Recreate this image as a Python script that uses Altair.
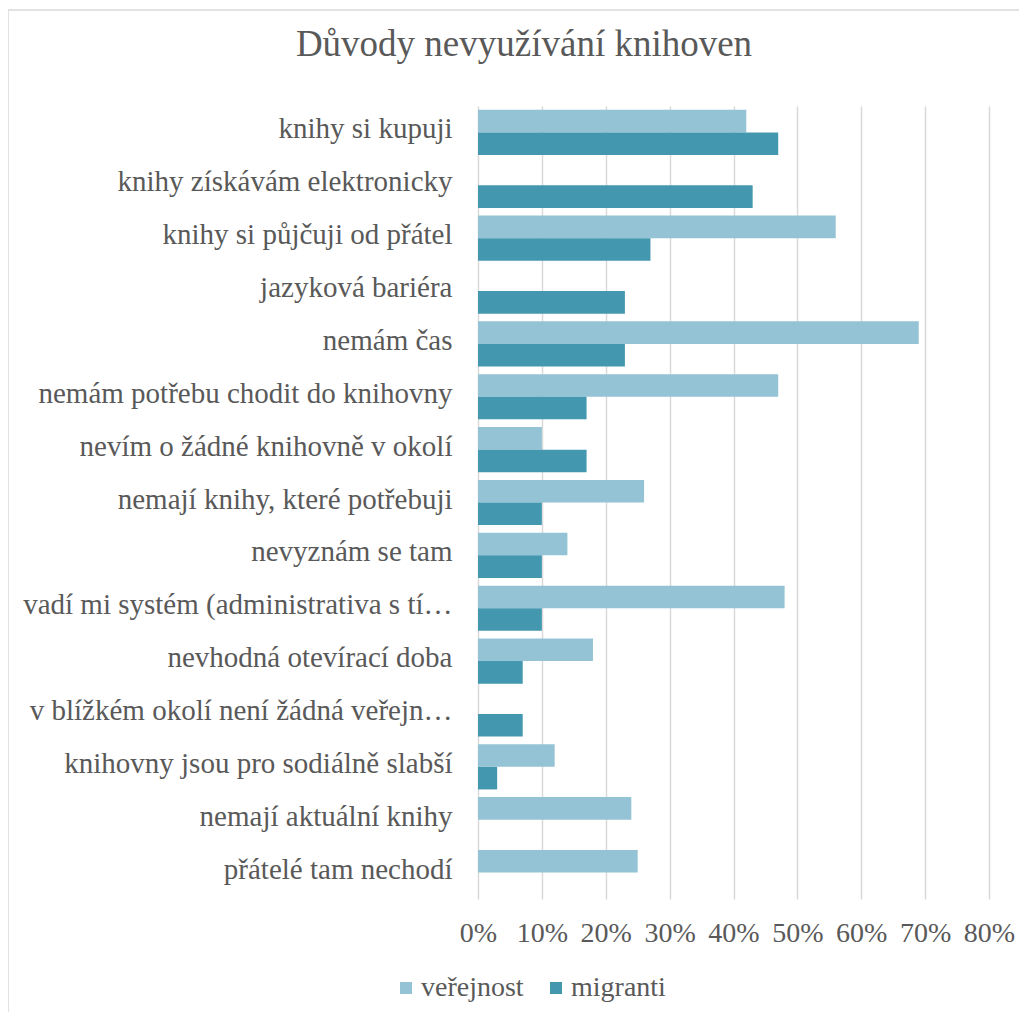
import altair as alt
import pandas as pd

title_text = "Důvody nevyužívání knihoven"
categories = [
    "knihy si kupuji",
    "knihy získávám elektronicky",
    "knihy si půjčuji od přátel",
    "jazyková bariéra",
    "nemám čas",
    "nemám potřebu chodit do knihovny",
    "nevím o žádné knihovně v okolí",
    "nemají knihy, které potřebuji",
    "nevyznám se tam",
    "vadí mi systém (administrativa s tím…",
    "nevhodná otevírací doba",
    "v blížkém okolí není žádná veřejná…",
    "knihovny jsou pro sodiálně slabší",
    "nemají aktuální knihy",
    "přátelé tam nechodí",
]
verejnost = [42, None, 56, None, 69, 47, 10, 26, 14, 48, 18, None, 12, 24, 25]
migranti = [47, 43, 27, 23, 23, 17, 17, 10, 10, 10, 7, 7, 3, None, None]
series = ["veřejnost", "migranti"]
colors = ["#93C3D4", "#4398B0"]
x_ticks = [0, 0.1, 0.2, 0.3, 0.4, 0.5, 0.6, 0.7, 0.8]

rows = []
for cat, v, m in zip(categories, verejnost, migranti):
    if v is not None:
        rows.append({"cat": cat, "series": series[0], "value": v / 100})
    if m is not None:
        rows.append({"cat": cat, "series": series[1], "value": m / 100})
df = pd.DataFrame(rows)

FONT = "Liberation Serif"
GRAY = "#595959"

border = alt.Chart(pd.DataFrame({"k": [0]})).mark_rect(
    fillOpacity=0, stroke="#D9D9D9", strokeWidth=1.5
).encode(
    x=alt.value(-470), x2=alt.value(700), y=alt.value(-96), y2=alt.value(1000)
)

title = alt.Chart(pd.DataFrame({"t": [title_text]})).mark_text(
    font=FONT, fontSize=37, color=GRAY, align="center", baseline="alphabetic"
).encode(text="t:N", x=alt.value(46), y=alt.value(-50))

bars = alt.Chart(df).mark_bar().encode(
    x=alt.X(
        "value:Q",
        scale=alt.Scale(domain=[0, 0.8], nice=False),
        axis=alt.Axis(
            values=x_ticks, format=".0%", grid=True, gridColor="#D9D9D9",
            gridWidth=1.5, domain=False, ticks=False, tickSize=0,
            labelFontSize=28, labelFont=FONT, labelColor=GRAY,
            labelPadding=20, labelOverlap=False, labelFlush=False, title=None,
        ),
    ),
    y=alt.Y(
        "cat:N", sort=categories,
        scale=alt.Scale(paddingInner=0.145, paddingOuter=0.0725),
        axis=alt.Axis(
            title=None, ticks=False, tickSize=0, domain=False, grid=False,
            labelFontSize=29, labelFont=FONT, labelColor=GRAY,
            labelPadding=26, labelLimit=430, labelOffset=-3,
        ),
    ),
    yOffset=alt.YOffset(
        "series:N", sort=series, scale=alt.Scale(paddingInner=0, paddingOuter=0)
    ),
    color=alt.Color(
        "series:N",
        scale=alt.Scale(domain=series, range=colors),
        legend=alt.Legend(
            title=None, orient="none", legendX=-86, legendY=868,
            direction="horizontal", symbolType="square", symbolSize=144,
            symbolStrokeWidth=0, labelFontSize=28, labelFont=FONT,
            labelColor=GRAY, labelOffset=1, columnPadding=18, padding=0,
        ),
    ),
)

chart = alt.layer(border, title, bars).properties(
    width=511,
    height=793,
    autosize=alt.AutoSizeParams(type="none"),
    padding={"left": 470, "top": 98, "right": 30, "bottom": 113},
).configure_view(strokeWidth=0)

chart.save("out.html", embed_options={"renderer": "svg", "actions": False})
